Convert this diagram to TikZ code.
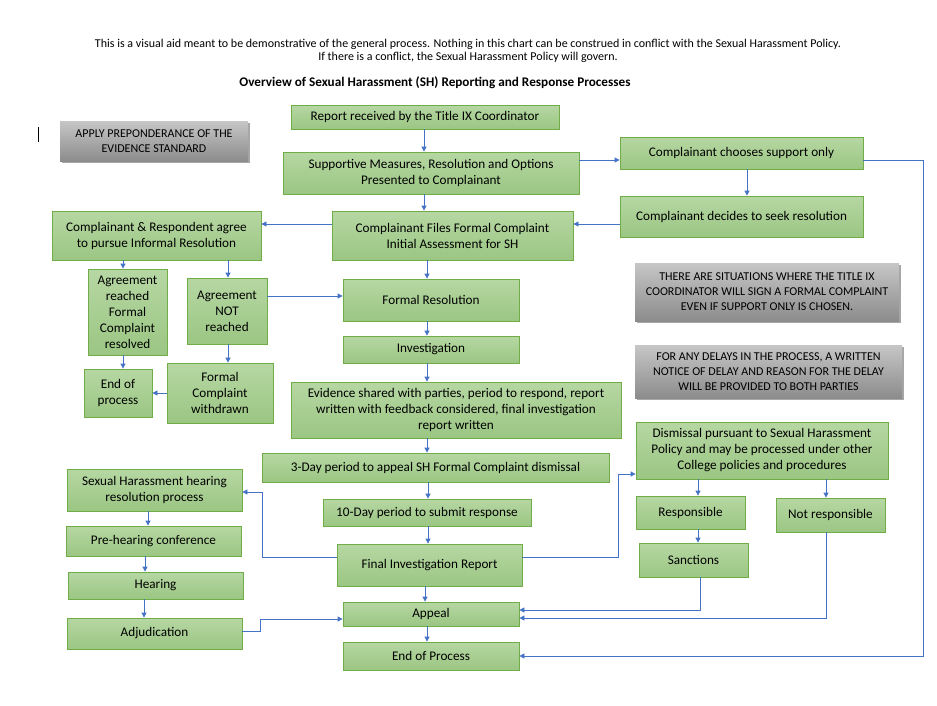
\documentclass[tikz,border=0pt]{standalone}
\usepackage{fontspec}
\setmainfont{Carlito}
\usepackage{xcolor}
\usepackage{tikz}
\usetikzlibrary{arrows.meta,shadows}

\definecolor{boxtop}{HTML}{B6D7A3}
\definecolor{boxbot}{HTML}{9BC683}
\definecolor{boxline}{HTML}{70AD47}
\definecolor{notetop}{HTML}{C6C6C6}
\definecolor{notebot}{HTML}{8C8C8C}
\definecolor{linkblue}{HTML}{4472C4}

\begin{document}
\begin{tikzpicture}[x=1pt,y=-1pt,
	box/.style={draw=boxline, line width=0.8pt, top color=boxtop, bottom color=boxbot,
		align=center, inner sep=0pt, font=\fontsize{13.2}{16}\selectfont},
	note/.style={top color=notetop, bottom color=notebot, align=center, inner sep=0pt,
		font=\fontsize{12}{15}\selectfont,
		drop shadow={shadow xshift=1.5pt, shadow yshift=-2pt, opacity=0.35, fill=black}},
	link/.style={draw=linkblue, line width=0.8pt, -{Triangle[length=5pt,width=5pt]}}]
		\useasboundingbox (0,0) rectangle (937,705);

		% heading
		\node[align=center, font=\fontsize{12}{13}\selectfont] (disclaimer) at (468,51)
			{This is a visual aid meant to be demonstrative of the general process. Nothing in this chart can be construed in conflict with the Sexual Harassment Policy.\\
			If there is a conflict, the Sexual Harassment Policy will govern.};
		\node[font=\fontsize{13.2}{15}\selectfont\bfseries] (title) at (435,83)
			{Overview of Sexual Harassment (SH) Reporting and Response Processes};
		\draw (38,127) -- (38,142);

		% grey notes
		\node[note, minimum width=188pt, minimum height=40pt] (standard) at (154,141)
			{APPLY PREPONDERANCE OF THE\\EVIDENCE STANDARD};
		\node[note, minimum width=264pt, minimum height=58pt] (coordsign) at (767,292)
			{THERE ARE SITUATIONS WHERE THE TITLE IX\\COORDINATOR WILL SIGN A FORMAL COMPLAINT\\EVEN IF SUPPORT ONLY IS CHOSEN.};
		\node[note, minimum width=267pt, minimum height=53pt] (delays) at (768.5,371.5)
			{FOR ANY DELAYS IN THE PROCESS, A WRITTEN\\NOTICE OF DELAY AND REASON FOR THE DELAY\\WILL BE PROVIDED TO BOTH PARTIES};

		% main column
		\node[box, minimum width=268pt, minimum height=24pt] (report) at (425,117)
			{Report received by the Title IX Coordinator};
		\node[box, minimum width=296pt, minimum height=42pt] (options) at (431,173)
			{Supportive Measures, Resolution and Options\\Presented to Complainant};
		\node[box, minimum width=241pt, minimum height=49pt] (files) at (452.5,235.5)
			{Complainant Files Formal Complaint\\Initial Assessment for SH};
		\node[box, minimum width=176pt, minimum height=42pt] (formal) at (431,300)
			{Formal Resolution};
		\node[box, minimum width=176pt, minimum height=27pt] (invest) at (431,349.5)
			{Investigation};
		\node[box, minimum width=330pt, minimum height=56pt] (evidence) at (456,410)
			{Evidence shared with parties, period to respond, report\\written with feedback considered, final investigation\\report written};
		\node[box, minimum width=347pt, minimum height=29pt] (threeday) at (435.5,467.5)
			{3-Day period to appeal SH Formal Complaint dismissal};
		\node[box, minimum width=208pt, minimum height=27pt] (tenday) at (427,512.5)
			{10-Day period to submit response};
		\node[box, minimum width=185pt, minimum height=42pt] (final) at (429.5,565)
			{Final Investigation Report};
		\node[box, minimum width=176pt, minimum height=24pt] (appeal) at (431,614)
			{Appeal};
		\node[box, minimum width=176pt, minimum height=28pt] (endmain) at (431,656)
			{End of Process};

		% right column
		\node[box, minimum width=243pt, minimum height=32pt] (support) at (741.5,153)
			{Complainant chooses support only};
		\node[box, minimum width=243pt, minimum height=41pt] (seek) at (741.5,216.5)
			{Complainant decides to seek resolution};
		\node[box, minimum width=252pt, minimum height=57pt] (dismissal) at (762,450.5)
			{Dismissal pursuant to Sexual Harassment\\Policy and may be processed under other\\College policies and procedures};
		\node[box, minimum width=109pt, minimum height=33pt] (resp) at (690.5,512.5)
			{Responsible};
		\node[box, minimum width=109pt, minimum height=34pt] (notresp) at (830.5,515)
			{Not responsible};
		\node[box, minimum width=109pt, minimum height=34pt] (sanctions) at (693.5,560)
			{Sanctions};

		% left column
		\node[box, minimum width=209pt, minimum height=49pt] (informal) at (156.5,235.5)
			{Complainant \& Respondent agree\\to pursue Informal Resolution};
		\node[box, minimum width=79pt, minimum height=86pt] (reached) at (127.5,312)
			{Agreement\\reached\\Formal\\Complaint\\resolved};
		\node[box, minimum width=80pt, minimum height=66pt] (notreached) at (227,311)
			{Agreement\\NOT\\reached};
		\node[box, minimum width=68pt, minimum height=48pt] (endinformal) at (118,393)
			{End of\\process};
		\node[box, minimum width=106pt, minimum height=60pt] (withdrawn) at (220,393)
			{Formal\\Complaint\\withdrawn};
		\node[box, minimum width=175pt, minimum height=42pt] (hearproc) at (154.5,490)
			{Sexual Harassment hearing\\resolution process};
		\node[box, minimum width=175pt, minimum height=30pt] (prehear) at (153.5,541)
			{Pre-hearing conference};
		\node[box, minimum width=175pt, minimum height=27pt] (hearing) at (155.5,585.5)
			{Hearing};
		\node[box, minimum width=175pt, minimum height=31pt] (adjud) at (154.5,633.5)
			{Adjudication};

		% connectors, top part
		\draw[link] (424,0 |- report.south) -- (424,0 |- options.north);
		\draw[link] (424,0 |- options.south) -- (424,0 |- files.north);
		\draw[link] (options.east |- 0,160) -- (support.west |- 0,160);
		\draw[link] (747,0 |- support.south) -- (747,0 |- seek.north);
		\draw[link] (seek.west |- 0,224) -- (files.east |- 0,224);
		\draw[link] (files.west |- 0,224) -- (informal.east |- 0,224);
		\draw[link] (support.east |- 0,160) -- (923,160) |- (endmain.east);

		% informal resolution
		\draw[link] (123,0 |- informal.south) -- (123,0 |- reached.north);
		\draw[link] (228,0 |- informal.south) -- (228,0 |- notreached.north);
		\draw[link] (123,0 |- reached.south) -- (123,0 |- endinformal.north);
		\draw[link] (228,0 |- notreached.south) -- (228,0 |- withdrawn.north);
		\draw[link] (withdrawn.west) -- (endinformal.east);
		\draw[link] (notreached.east |- 0,296) -- (formal.west |- 0,296);

		% formal resolution
		\draw[link] (427,0 |- files.south) -- (427,0 |- formal.north);
		\draw[link] (427,0 |- formal.south) -- (427,0 |- invest.north);
		\draw[link] (427,0 |- invest.south) -- (427,0 |- evidence.north);
		\draw[link] (427,0 |- evidence.south) -- (427,0 |- threeday.north);
		\draw[link] (428,0 |- threeday.south) -- (428,0 |- tenday.north);
		\draw[link] (428,0 |- tenday.south) -- (428,0 |- final.north);
		\draw[link] (425,0 |- final.south) -- (425,0 |- appeal.north);
		\draw[link] (427,0 |- appeal.south) -- (427,0 |- endmain.north);
		\draw[link] (final.west |- 0,557) -- (262,557) |- (hearproc.east |- 0,492);
		\draw[link] (final.east |- 0,557) -- (618,557) |- (dismissal.west |- 0,474);

		% outcomes
		\draw[link] (698,0 |- dismissal.south) -- (698,0 |- resp.north);
		\draw[link] (826,0 |- dismissal.south) -- (826,0 |- notresp.north);
		\draw[link] (698,0 |- resp.south) -- (698,0 |- sanctions.north);
		\draw[link] (700,0 |- sanctions.south) -- (700,610) -- (appeal.east |- 0,610);
		\draw[link] (826,0 |- notresp.south) -- (826,618) -- (appeal.east |- 0,618);

		% hearing
		\draw[link] (148,0 |- hearproc.south) -- (148,0 |- prehear.north);
		\draw[link] (145,0 |- prehear.south) -- (145,0 |- hearing.north);
		\draw[link] (144,0 |- hearing.south) -- (144,0 |- adjud.north);
		\draw[link] (adjud.east |- 0,631) -- (260,631) |- (appeal.west |- 0,619);
	\end{tikzpicture}
\end{document}
